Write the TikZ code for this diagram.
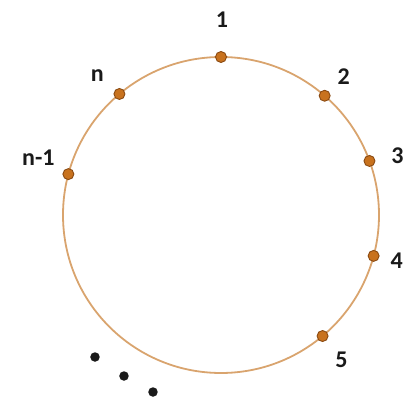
\documentclass[tikz,border=0pt]{standalone}
\usepackage{fontspec}
\setmainfont{Carlito}
\usepackage{tikz}
\usetikzlibrary{positioning}
\definecolor{ring}{HTML}{D9A46E}
\definecolor{knot}{HTML}{C8721E}
\definecolor{knotr}{HTML}{8A4A12}
\definecolor{schwarz}{HTML}{1A1A1A}
\tikzset{
  ringline/.style={draw=ring,line width=1.8pt},
  station/.style={circle,fill=knot,draw=knotr,line width=0.9pt,inner sep=0pt,minimum size=11pt},
  lab/.style={font=\fontsize{24}{24}\selectfont\bfseries,text=schwarz,inner sep=0pt},
  punkt/.style={circle,fill=schwarz,inner sep=0pt,minimum size=9.5pt},
}

\begin{document}
\begin{tikzpicture}[x=1pt,y=1pt]
  \useasboundingbox (-221,-186) rectangle (188,215);
  \coordinate (c) at (0,0);
  \draw[ringline] (c) circle (158);
  % stations on the ring
  \node[station] (p1) at (90:158) {};
  \node[station] (p2) at (49:158) {};
  \node[station] (p3) at (20:158) {};
  \node[station] (p4) at (-15:158) {};
  \node[station] (p5) at (-50:158) {};
  \node[station] (pn) at (130:158) {};
  \node[station] (pm) at (165:158) {};
  % labels
  \node[lab] (l1) at ([shift={(1,37)}]p1) {1};
  \node[lab] (l2) at ([shift={(19,19)}]p2) {2};
  \node[lab] (l3) at ([shift={(28,5)}]p3) {3};
  \node[lab] (l4) at ([shift={(23,-5)}]p4) {4};
  \node[lab] (l5) at ([shift={(19,-24)}]p5) {5};
  \node[lab] (ln) at ([shift={(-22,18)}]pn) {n};
  \node[lab] (lm) at ([shift={(-30,16)}]pm) {n-1};
  % dots
  \node[punkt] (d1) at (-126,-142) {};
  \node[punkt] (d2) at (-97,-161) {};
  \node[punkt] (d3) at (-68,-177) {};
\end{tikzpicture}
\end{document}
